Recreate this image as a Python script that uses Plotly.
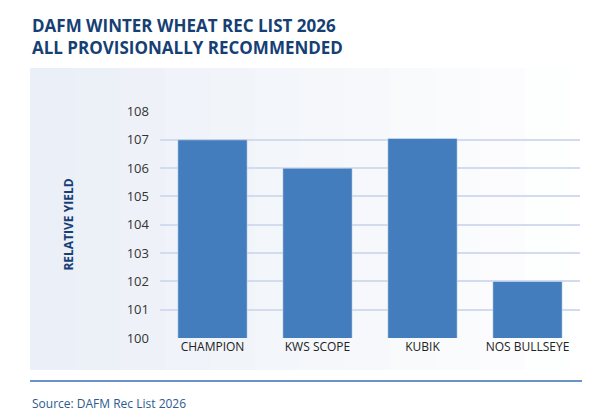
import plotly.graph_objects as go

varieties = ["CHAMPION", "KWS SCOPE", "KUBIK", "NOS BULLSEYE"]
relative_yield = [107.0, 106.0, 107.05, 102.0]
y_ticks = [100, 101, 102, 103, 104, 105, 106, 107, 108]

W, H = 600, 419
L, R, T, B = 152, 28, 103, 89
PW, PH = W - L - R, H - T - B
navy = "#163f74"


def px(x):
    return (x - L) / PW


def py(y):
    return (H - B - y) / PH


fig = go.Figure(go.Bar(
    x=varieties, y=relative_yield,
    marker=dict(color="#437dbd"),
    width=0.66,
    hoverinfo="x+y",
))

# background panel fading to white on the right
shapes = []
steps = 12
for i in range(steps):
    x0 = 22 + i * 45
    shapes.append(dict(
        type="rect", xref="paper", yref="paper", layer="below",
        x0=px(x0), x1=px(x0 + 45),
        y0=py(362), y1=py(60),
        line=dict(width=0),
        fillcolor="rgba(228,234,244,%.3f)" % (0.75 * (1 - i / steps)),
    ))
shapes.append(dict(
    type="line", xref="paper", yref="paper",
    x0=px(22), x1=px(574), y0=py(373), y1=py(373),
    line=dict(color="#6b92c6", width=2),
))

fig.update_layout(
    width=W, height=H,
    margin=dict(l=L, r=R, t=T, b=B),
    paper_bgcolor="white", plot_bgcolor="rgba(0,0,0,0)",
    font=dict(family="Open Sans, Noto Sans, sans-serif", color="#333333"),
    showlegend=False,
    shapes=shapes,
    bargap=0.34,
    xaxis=dict(
        showgrid=False, showline=False, ticks="",
        tickfont=dict(size=12, color="#222222"),
    ),
    yaxis=dict(
        range=[100, 108.02], tickvals=y_ticks,
        showgrid=True, gridcolor="#d3dcee", gridwidth=1.5,
        zeroline=False, showline=False, ticks="",
        tickfont=dict(size=13, color="#333333"),
        ticklabelstandoff=10,
        title=dict(text="<b>RELATIVE YIELD</b>", font=dict(size=12, color=navy), standoff=50),
    ),
)

fig.add_annotation(
    text="<b>DAFM WINTER WHEAT REC LIST 2026<br>ALL PROVISIONALLY RECOMMENDED</b>",
    xref="paper", yref="paper", x=px(22), y=py(4), xanchor="left", yanchor="top",
    align="left", showarrow=False, font=dict(size=17, color=navy),
)
fig.add_annotation(
    text="Source: DAFM Rec List 2026", xref="paper", yref="paper",
    x=px(22), y=py(395), xanchor="left", yanchor="middle",
    showarrow=False, font=dict(size=12, color="#2d5a8f"),
)

fig.write_html("out.html")
